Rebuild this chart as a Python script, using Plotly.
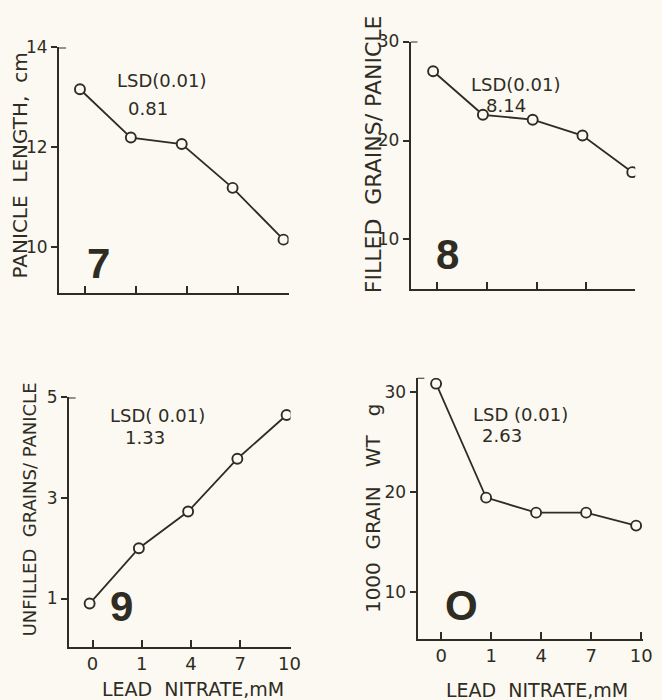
import plotly.graph_objects as go

# ---- data ----
lead_nitrate = ["0", "1", "4", "7", "10"]
panicle_length = [13.16, 12.19, 12.06, 11.18, 10.14]
filled_grains = [27.0, 22.6, 22.1, 20.5, 16.8]
unfilled_grains = [0.9, 2.0, 2.73, 3.78, 4.65]
grain_wt = [30.8, 19.4, 17.9, 17.9, 16.6]

panel_ids = ["7", "8", "9", "O"]
lsd_values = ["0.81", "8.14", "1.33", "2.63"]
lsd_labels = ["LSD(0.01)", "LSD(0.01)", "LSD( 0.01)", "LSD (0.01)"]
y_titles = ["PANICLE  LENGTH,  cm", "FILLED  GRAINS/ PANICLE",
            "UNFILLED  GRAINS/ PANICLE", "1000  GRAIN   WT   g"]
x_title = "LEAD  NITRATE,mM"

W, H = 662, 700
INK = "#2f2c24"
BG = "#fbf9f1"
FONT = "DejaVu Sans"
BOLD = "Liberation Sans, Arial, DejaVu Sans"

xs = list(range(len(lead_nitrate)))

# panel boxes in pixels: (left, right, top, bottom), y range, x range, ticks
panels = [
    dict(box=(60, 293, 38, 287), yr=[9.07, 14], xr=[-0.41, 4.1], yt=[10, 12, 14],
         y=panicle_length, off=0.1, labels=False),
    dict(box=(417, 645, 32, 283), yr=[5, 30], xr=[-0.45, 4.06], yt=[10, 20, 30],
         y=filled_grains, off=0.08, labels=False),
    dict(box=(70, 295, 393, 646), yr=[0.04, 5], xr=[-0.42, 4.08], yt=[1, 3, 5],
         y=unfilled_grains, off=0.06, labels=True),
    dict(box=(424, 653, 373, 638), yr=[5.27, 31.4], xr=[-0.37, 4.14], yt=[10, 20, 30],
         y=grain_wt, off=0.1, labels=True),
]

fig = go.Figure()
layout = {}
annotations = []
shapes = []


def px(x):
    return x / W


def py(y):
    return 1 - y / H


for i, p in enumerate(panels):
    n = "" if i == 0 else str(i + 1)
    l, r, t, b = p["box"]
    fig.add_trace(go.Scatter(
        x=xs, y=p["y"], mode="lines+markers", xaxis="x" + n, yaxis="y" + n,
        line=dict(color=INK, width=1.8),
        marker=dict(symbol="circle", size=10, color=BG,
                    line=dict(color=INK, width=1.9)),
        showlegend=False, hoverinfo="skip"))
    layout["xaxis" + n] = dict(
        domain=[px(l), px(r)], range=p["xr"], anchor="y" + n,
        showgrid=False, zeroline=False, showline=True, linecolor=INK, linewidth=2,
        ticks="inside", ticklen=7, tickwidth=1.6, tickcolor=INK,
        tickvals=[v + p["off"] for v in xs], ticktext=lead_nitrate,
        showticklabels=p["labels"], ticklabelstandoff=0,
        tickfont=dict(family=FONT, size=18, color=INK))
    layout["yaxis" + n] = dict(
        domain=[py(b), py(t)], range=p["yr"], anchor="x" + n,
        showgrid=False, zeroline=False, showline=True, linecolor=INK, linewidth=2,
        ticks="outside", ticklen=6, tickwidth=1.6, tickcolor=INK,
        tickvals=p["yt"], ticklabelstandoff=0,
        tickfont=dict(family=FONT, size=17, color=INK))
    # small top cap of the y axis
    shapes.append(dict(type="line", xref=("x" + n) + " domain", yref="y" + n,
                       x0=0, x1=0.03, y0=p["yr"][1], y1=p["yr"][1],
                       line=dict(color=INK, width=2)))

# LSD annotations (pixel centres)
lsd_pos = [((164, 72), (150, 100)), ((523, 76), (514, 97)),
           ((160, 411), (147, 434)), ((528, 410), (510, 432))]
for (p1, p2), lab, val in zip(lsd_pos, lsd_labels, lsd_values):
    annotations.append(dict(x=px(p1[0]), y=py(p1[1]), xref="paper", yref="paper",
                            text=lab, showarrow=False, xanchor="center", yanchor="middle",
                            borderpad=0, font=dict(family=FONT, size=18, color=INK)))
    annotations.append(dict(x=px(p2[0]), y=py(p2[1]), xref="paper", yref="paper",
                            text=val, showarrow=False, xanchor="center", yanchor="middle",
                            borderpad=0, font=dict(family=FONT, size=18, color=INK)))

# big panel numbers
num_pos = [(100, 257), (454, 248), (123, 605), (469, 604)]
for (cx, cy), t in zip(num_pos, panel_ids):
    annotations.append(dict(x=px(cx), y=py(cy), xref="paper", yref="paper",
                            text="<b>" + t + "</b>", showarrow=False,
                            xanchor="center", yanchor="middle",
                            font=dict(family=BOLD, size=42, color=INK)))

# y titles
yt_pos = [(20, 158, 20), (380, 146, 22), (30, 507, 18), (378, 505, 20)]
for (cx, cy, fs), t in zip(yt_pos, y_titles):
    annotations.append(dict(x=px(cx), y=py(cy), xref="paper", yref="paper",
                            text=t, textangle=-90, showarrow=False,
                            xanchor="center", yanchor="middle",
                            font=dict(family=FONT, size=fs, color=INK)))

# x titles
for cx, cy in [(196, 689), (545, 690)]:
    annotations.append(dict(x=px(cx), y=py(cy), xref="paper", yref="paper",
                            text=x_title, showarrow=False, borderpad=0,
                            xanchor="center", yanchor="middle",
                            font=dict(family=FONT, size=19, color=INK)))

fig.update_layout(
    width=W, height=H, margin=dict(l=0, r=0, t=0, b=0),
    paper_bgcolor=BG, plot_bgcolor=BG,
    annotations=annotations, shapes=shapes, **layout)

fig.write_html("out.html")
